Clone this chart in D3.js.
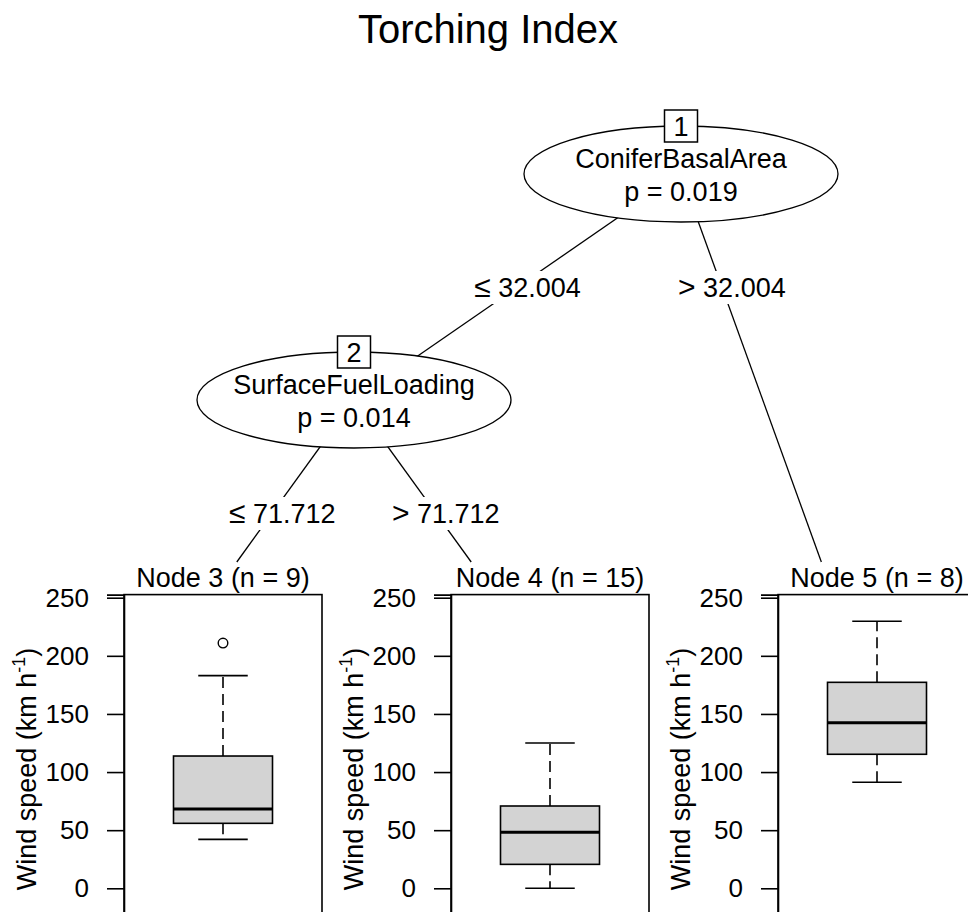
<!DOCTYPE html>
<html>
<head>
<meta charset="utf-8">
<script src="https://cdn.jsdelivr.net/npm/d3@7"></script>
<style>
  html, body { margin: 0; padding: 0; background: #fff; }
  svg { display: block; font-family: "Liberation Sans", Arial, sans-serif; }
</style>
</head>
<body>
<svg id="chart" width="968" height="912"></svg>
<script>
// ── Data ──────────────────────────────────────────────────────────────────────
const title = 'Torching Index';

// inner nodes
const innerIds   = [1, 2];
const innerVars  = ['ConiferBasalArea', 'SurfaceFuelLoading'];
const innerP     = ['p = 0.019', 'p = 0.014'];
const innerPos   = [2, 1];          // layout x (terminal units)
const innerDepth = [0, 1];

// edges: parent -> child, split label
const edgeFrom  = [1, 1, 2, 2];
const edgeTo    = [2, 5, 3, 4];
const edgeSign  = ['≤', '>', '≤', '>'];
const edgeSplit = ['32.004', '32.004', '71.712', '71.712'];

// terminal nodes (boxplots)
const termIds  = [3, 4, 5];
const termN    = [9, 15, 8];
const termPos  = [0.5, 1.5, 2.5];
const lowWhisk = [42.1, 0, 91.2];
const q1       = [55.9, 20.6, 115.3];
const median   = [68.2, 48.2, 142.5];
const q3       = [113.8, 70.8, 177.2];
const upWhisk  = [183, 125, 229.7];
const outliers = [[211], [], []];

const yTicks = [0, 50, 100, 150, 200, 250];
const yLabel = 'Wind speed (km h';

// ── Layout ────────────────────────────────────────────────────────────────────
const W = 968, H = 912;
const FS = 27, FS_TICK = 26;
const svg = d3.select('#chart');
svg.append('rect').attr('width', W).attr('height', H).attr('fill', '#fff');

const xU = d3.scaleLinear().domain([0, 3]).range([27, 1008]);
const yD = d3.scaleLinear().domain([0, 2]).range([174, 626]);
const TERM_TOP = 562;
const RX = 157, RY = 48;
const PW = 198, POFF = 66.5;

const allVals = [...lowWhisk, ...upWhisk, ...outliers.flat()];
const vMin = d3.min(allVals), vMax = d3.max(allVals), vR = vMax - vMin;
const y = d3.scaleLinear().domain([vMin - 0.1 * vR, vMax + 0.1 * vR]).range([915, 594.6]);

const pos = {};
innerIds.forEach((id, i) => pos[id] = { x: xU(innerPos[i]), y: yD(innerDepth[i]), term: false });
termIds.forEach((id, i) => pos[id] = { x: xU(termPos[i]), y: yD(2), term: true });

// title
svg.append('text').attr('x', 488).attr('y', 43).attr('text-anchor', 'middle')
  .attr('font-size', 40).text(title);

// ── Edges ─────────────────────────────────────────────────────────────────────
const gEdge = svg.append('g');
edgeFrom.forEach((f, i) => {
  const p = pos[f], c = pos[edgeTo[i]];
  let x2 = c.x, y2 = c.y;
  if (c.term) { // clip at terminal viewport top
    const t = (TERM_TOP - p.y) / (c.y - p.y);
    x2 = p.x + t * (c.x - p.x); y2 = TERM_TOP;
  }
  gEdge.append('line').attr('x1', p.x).attr('y1', p.y).attr('x2', x2).attr('y2', y2)
    .attr('stroke', '#000').attr('stroke-width', 1.3);

  // label on the line, halfway between the levels
  const ly = (p.y + yD(innerDepth[innerIds.indexOf(f)] + 1)) / 2;
  const lx = p.x + (ly - p.y) / (c.y - p.y) * (c.x - p.x) + 10;
  gEdge.append('rect').attr('x', lx - 54).attr('y', ly - 16).attr('width', 108).attr('height', 33)
    .attr('fill', '#fff');
  const t = gEdge.append('text').attr('x', lx).attr('y', ly + 10).attr('text-anchor', 'middle')
    .attr('font-size', FS);
  t.append('tspan').attr('font-size', 30).text(edgeSign[i]);
  t.append('tspan').text(' ' + edgeSplit[i]);
});

// ── Inner nodes ───────────────────────────────────────────────────────────────
innerIds.forEach((id, i) => {
  const p = pos[id];
  const g = svg.append('g');
  g.append('ellipse').attr('cx', p.x).attr('cy', p.y).attr('rx', RX).attr('ry', RY)
    .attr('fill', '#fff').attr('stroke', '#000').attr('stroke-width', 1.3);
  g.append('text').attr('x', p.x).attr('y', p.y - 6).attr('text-anchor', 'middle')
    .attr('font-size', FS).text(innerVars[i]);
  g.append('text').attr('x', p.x).attr('y', p.y + 27).attr('text-anchor', 'middle')
    .attr('font-size', FS).text(innerP[i]);
  g.append('rect').attr('x', p.x - 16.5).attr('y', p.y - RY - 16).attr('width', 33).attr('height', 32)
    .attr('fill', '#fff').attr('stroke', '#000').attr('stroke-width', 1.5);
  g.append('text').attr('x', p.x).attr('y', p.y - RY + 9.5).attr('text-anchor', 'middle')
    .attr('font-size', FS).text(id);
});

// ── Terminal nodes (boxplots) ────────────────────────────────────────────────
termIds.forEach((id, i) => {
  const cx = pos[id].x;
  const left = cx - POFF, mid = left + PW / 2;
  const g = svg.append('g');

  g.append('text').attr('x', mid).attr('y', 587).attr('text-anchor', 'middle')
    .attr('font-size', FS).text(`Node ${id} (n = ${termN[i]})`);

  g.append('rect').attr('x', left).attr('y', y.range()[1]).attr('width', PW)
    .attr('height', y.range()[0] - y.range()[1])
    .attr('fill', 'none').attr('stroke', '#000').attr('stroke-width', 1.6);

  const ax = g.append('g').attr('transform', `translate(${left},0)`)
    .call(d3.axisLeft(y).tickValues(yTicks).tickSize(17).tickPadding(18).tickFormat(d3.format('d')));
  ax.select('.domain').attr('stroke-width', 1.6);
  ax.selectAll('.tick line').attr('stroke-width', 1.6);
  ax.selectAll('.tick text').attr('font-size', FS_TICK).attr('font-family', null).attr('fill', '#000');

  const lab = g.append('text').attr('transform', `translate(${left - 88},769) rotate(-90)`)
    .attr('text-anchor', 'middle').attr('font-size', FS);
  lab.append('tspan').text(yLabel);
  lab.append('tspan').attr('font-size', 18).attr('dy', -11).text('-1');
  lab.append('tspan').attr('dy', 11).text(')');

  const bw = PW / 2, cw = PW / 4;
  // whiskers
  const dash = '11,6';
  g.append('line').attr('x1', mid).attr('x2', mid).attr('y1', y(q3[i])).attr('y2', y(upWhisk[i]))
    .attr('stroke', '#000').attr('stroke-width', 1.6).attr('stroke-dasharray', dash);
  g.append('line').attr('x1', mid).attr('x2', mid).attr('y1', y(q1[i])).attr('y2', y(lowWhisk[i]))
    .attr('stroke', '#000').attr('stroke-width', 1.6).attr('stroke-dasharray', dash);
  [upWhisk[i], lowWhisk[i]].forEach(v => {
    g.append('line').attr('x1', mid - cw / 2).attr('x2', mid + cw / 2).attr('y1', y(v)).attr('y2', y(v))
      .attr('stroke', '#000').attr('stroke-width', 1.6);
  });
  // box
  g.append('rect').attr('x', mid - bw / 2).attr('y', y(q3[i])).attr('width', bw)
    .attr('height', y(q1[i]) - y(q3[i]))
    .attr('fill', '#d3d3d3').attr('stroke', '#000').attr('stroke-width', 1.6);
  g.append('line').attr('x1', mid - bw / 2).attr('x2', mid + bw / 2)
    .attr('y1', y(median[i])).attr('y2', y(median[i]))
    .attr('stroke', '#000').attr('stroke-width', 3);
  // outliers
  outliers[i].forEach(v => {
    g.append('circle').attr('cx', mid).attr('cy', y(v)).attr('r', 4.8)
      .attr('fill', 'none').attr('stroke', '#000').attr('stroke-width', 1.4);
  });
});
</script>
</body>
</html>
